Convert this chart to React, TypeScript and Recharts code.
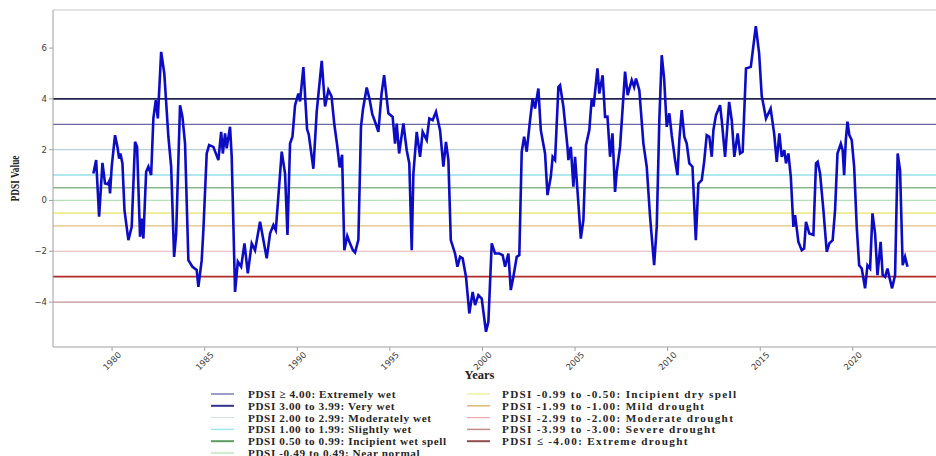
import { LineChart, Line, XAxis, YAxis, ReferenceLine, Legend } from 'recharts'

// monthly-ish PDSI readings (decimal year, value)
const years = [
  1978.99, 1979.14, 1979.3, 1979.48, 1979.62, 1979.77, 1979.84, 1979.89, 1979.98, 1980.16,
  1980.29, 1980.38, 1980.45, 1980.56, 1980.67, 1980.88, 1981.06, 1981.24, 1981.35, 1981.51,
  1981.6, 1981.69, 1981.84, 1981.96, 1982.11, 1982.23, 1982.36, 1982.47, 1982.65, 1982.82,
  1983.04, 1983.19, 1983.35, 1983.46, 1983.67, 1983.8, 1983.94, 1984.12, 1984.34, 1984.57,
  1984.66, 1984.84, 1984.93, 1985.11, 1985.24, 1985.47, 1985.74, 1985.89, 1985.98, 1986.1,
  1986.19, 1986.37, 1986.46, 1986.64, 1986.79, 1986.97, 1987.15, 1987.33, 1987.54, 1987.72,
  1987.99, 1988.17, 1988.35, 1988.53, 1988.71, 1988.84, 1988.95, 1989.16, 1989.34, 1989.47,
  1989.61, 1989.74, 1989.88, 1990.06, 1990.15, 1990.33, 1990.53, 1990.62, 1990.87, 1991.05,
  1991.32, 1991.5, 1991.68, 1991.85, 1992.0, 1992.15, 1992.29, 1992.42, 1992.54, 1992.7,
  1992.85, 1993.0, 1993.12, 1993.3, 1993.44, 1993.55, 1993.75, 1993.9, 1994.05, 1994.2,
  1994.38, 1994.55, 1994.69, 1994.92, 1995.15, 1995.28, 1995.37, 1995.5, 1995.73, 1995.91,
  1996.05, 1996.18, 1996.27, 1996.45, 1996.63, 1996.77, 1996.99, 1997.13, 1997.31, 1997.49,
  1997.71, 1997.89, 1998.03, 1998.16, 1998.29, 1998.52, 1998.65, 1998.79, 1998.93, 1999.11,
  1999.29, 1999.47, 1999.6, 1999.78, 1999.96, 2000.19, 2000.32, 2000.5, 2000.68, 2000.91,
  2001.09, 2001.22, 2001.4, 2001.53, 2001.67, 2001.85, 2001.99, 2002.12, 2002.25, 2002.39,
  2002.57, 2002.71, 2002.84, 2003.02, 2003.15, 2003.38, 2003.51, 2003.69, 2003.79, 2003.92,
  2004.1, 2004.19, 2004.37, 2004.59, 2004.64, 2004.77, 2004.91, 2005.0, 2005.18, 2005.31,
  2005.45, 2005.59, 2005.77, 2005.9, 2006.0, 2006.21, 2006.31, 2006.49, 2006.62, 2006.75,
  2006.89, 2007.02, 2007.16, 2007.25, 2007.43, 2007.7, 2007.84, 2008.06, 2008.19, 2008.29,
  2008.47, 2008.69, 2008.87, 2009.05, 2009.27, 2009.41, 2009.55, 2009.68, 2009.81, 2009.95,
  2010.09, 2010.22, 2010.4, 2010.53, 2010.63, 2010.76, 2010.9, 2011.03, 2011.17, 2011.34,
  2011.52, 2011.66, 2011.84, 2011.97, 2012.11, 2012.25, 2012.38, 2012.47, 2012.61, 2012.83,
  2012.92, 2013.1, 2013.32, 2013.46, 2013.6, 2013.78, 2013.91, 2014.05, 2014.23, 2014.49,
  2014.76, 2014.94, 2015.08, 2015.17, 2015.31, 2015.56, 2015.75, 2015.89, 2016.03, 2016.16,
  2016.3, 2016.39, 2016.52, 2016.65, 2016.79, 2016.88, 2017.06, 2017.24, 2017.37, 2017.47,
  2017.65, 2017.87, 2018.01, 2018.1, 2018.23, 2018.41, 2018.59, 2018.73, 2018.91, 2019.04,
  2019.17, 2019.35, 2019.45, 2019.53, 2019.62, 2019.71, 2019.81, 2019.94, 2020.07, 2020.21,
  2020.34, 2020.48, 2020.66, 2020.79, 2020.93, 2021.06, 2021.2, 2021.33, 2021.5, 2021.61,
  2021.74, 2021.87, 2021.97, 2022.12, 2022.28, 2022.42, 2022.55, 2022.69, 2022.82, 2022.95,
]

const pdsi = [
  1.06, 1.59, -0.64, 1.48, 0.67, 0.64, 0.75, 0.28, 1.33, 2.57,
  2.11, 1.65, 1.85, 1.46, -0.38, -1.56, -1.04, 2.31, 2.11, -1.43,
  -0.71, -1.5, 1.13, 1.33, 1.0, 3.23, 3.95, 3.23, 5.85, 5.0,
  2.51, 1.33, -2.22, -1.3, 3.75, 3.29, 2.24, -2.35, -2.61, -2.74,
  -3.4, -2.35, -1.17, 1.85, 2.18, 2.11, 1.59, 2.7, 1.85, 2.64,
  2.05, 2.9, 1.72, -3.6, -2.41, -2.61, -1.69, -2.87, -1.69, -1.96,
  -0.84, -1.56, -2.28, -1.3, -0.97, -1.17, -0.12, 1.92, 1.06, -1.36,
  2.24, 2.51, 3.75, 4.21, 3.9, 5.25, 2.8, 2.6, 1.25, 3.5,
  5.5, 3.7, 4.35, 4.1, 3.0, 2.2, 1.3, 1.8, -1.96, -1.4,
  -1.7, -1.95, -2.05, -1.55, 2.9, 3.6, 4.45, 4.0, 3.4, 3.1,
  2.7, 4.2, 4.93, 3.43, 3.29, 2.24, 3.03, 1.85, 3.03, 1.98,
  1.46, -1.96, 1.06, 2.7, 1.72, 2.7, 2.38, 3.23, 3.16, 3.49,
  2.77, 1.33, 2.31, 1.59, -1.56, -2.09, -2.61, -2.22, -2.28, -3.0,
  -4.45, -3.6, -4.12, -3.73, -3.86, -5.17, -4.78, -1.69, -2.09, -2.09,
  -2.15, -2.61, -2.09, -3.53, -3.0, -2.22, -2.15, 1.92, 2.51, 1.92,
  3.16, 4.02, 3.62, 4.41, 2.77, 1.85, 0.21, 0.93, 1.72, 1.59,
  4.47, 4.54, 3.69, 2.11, 1.59, 2.11, 0.54, 1.72, -0.12, -1.5,
  -0.77, 2.18, 2.77, 4.02, 3.7, 5.2, 4.21, 4.93, 3.29, 3.3,
  1.72, 2.64, 0.34, 1.13, 2.11, 5.07, 4.15, 4.74, 4.47, 4.8,
  4.34, 2.24, 1.33, -0.64, -2.55, -1.04, 3.16, 5.72, 4.8, 2.9,
  3.43, 2.57, 1.59, 1.0, 2.38, 3.56, 2.51, 2.24, 1.46, 1.33,
  -1.56, 0.67, 0.8, 1.52, 2.57, 2.51, 1.72, 2.77, 3.36, 3.75,
  3.16, 1.72, 3.88, 3.16, 1.72, 2.64, 1.85, 1.92, 5.2, 5.26,
  6.86, 5.79, 4.11, 3.78, 3.23, 3.62, 2.64, 1.52, 2.64, 1.72,
  1.98, 1.46, 1.85, 0.93, -1.04, -0.58, -1.63, -1.96, -1.89, -0.84,
  -1.3, -1.36, 1.46, 1.52, 1.06, -0.38, -2.02, -1.69, -1.56, -0.38,
  1.85, 2.24, 1.98, 1.0, 2.38, 3.1, 2.57, 2.38, 1.33, -1.04,
  -2.55, -2.68, -3.46, -2.55, -2.68, -0.51, -1.3, -2.94, -1.63, -2.94,
  -3.01, -2.68, -3.01, -3.46, -2.94, 1.85, 1.19, -2.55, -2.22, -2.61,
]

const yearTicks = [1980, 1985, 1990, 1995, 2000, 2005, 2010, 2015, 2020]
const valueTicks = [-4, -2, 0, 2, 4, 6]

// class boundaries drawn across the plot
const thresholds = [4, 3, 2, 1, 0.5, 0, -0.5, -1, -2, -3, -4]

const legendLabels = [
  'PDSI \u2265 4.00: Extremely wet',
  'PDSI 3.00 to 3.99: Very wet',
  'PDSI 2.00 to 2.99: Moderately wet',
  'PDSI 1.00 to 1.99: Slightly wet',
  'PDSI 0.50 to 0.99: Incipient wet spell',
  'PDSI -0.49 to 0.49: Near normal',
  'PDSI -0.99 to -0.50: Incipient dry spell',
  'PDSI -1.99 to -1.00: Mild drought',
  'PDSI -2.99 to -2.00: Moderate drought',
  'PDSI -3.99 to -3.00: Severe drought',
  'PDSI \u2264 -4.00: Extreme drought',
]

const data = years.map((t, i) => ({ t, v: pdsi[i] }))

const lineStyles = [
  { stroke: '#22224f', width: 1.6 },
  { stroke: '#6a6aa2', width: 1.2 },
  { stroke: '#b9cfdb', width: 1.2 },
  { stroke: '#95e0ea', width: 1.5 },
  { stroke: '#88b888', width: 1.3 },
  { stroke: '#b4e2b4', width: 1.3 },
  { stroke: '#f2ea8e', width: 1.6 },
  { stroke: '#e2c27e', width: 1.3 },
  { stroke: '#e8b2b2', width: 1.2 },
  { stroke: '#b02a2a', width: 1.7 },
  { stroke: '#c49393', width: 1.3 },
]

const legendStyles = [
  { stroke: '#7c7cb4', width: 1.5 },
  { stroke: '#33338a', width: 2 },
  { stroke: '#d0dce4', width: 1 },
  { stroke: '#a4e6ee', width: 1.5 },
  { stroke: '#5e9c5e', width: 2 },
  { stroke: '#bce8bc', width: 1.5 },
  { stroke: '#f5f0a0', width: 1.5 },
  { stroke: '#d9b872', width: 1.5 },
  { stroke: '#eaaaaa', width: 1.2 },
  { stroke: '#c28a8a', width: 1.5 },
  { stroke: '#8f4e4e', width: 2 },
]

const serif = '"Liberation Serif", "Times New Roman", serif'
const sans = '"DejaVu Sans", sans-serif'

const minus = (v: number) => (v < 0 ? `\u2212${-v}` : `${v}`)

const YearTick = ({ x, y, payload }: any) => {
  const cy = y + 8
  return (
    <text
      x={x}
      y={cy}
      transform={`rotate(-45 ${x} ${cy})`}
      textAnchor="middle"
      dominantBaseline="central"
      fontFamily={sans}
      fontSize={8.5}
      fill="#3a3a3a"
    >
      {payload.value}
    </text>
  )
}

const ThresholdLegend = () => (
  <svg width={936} height={70} style={{ display: 'block' }}>
    {legendLabels.map((label, i) => {
      const col = i < 6 ? 0 : 1
      const row = col === 0 ? i : i - 6
      const y = 6 + row * 11.8
      const x0 = col === 0 ? 211 : 467
      return (
        <g key={label}>
          <line x1={x0} x2={x0 + 23} y1={y} y2={y} stroke={legendStyles[i].stroke} strokeWidth={legendStyles[i].width} />
          <text
            x={col === 0 ? 248 : 502}
            y={y}
            dominantBaseline="central"
            fontFamily={serif}
            fontWeight="bold"
            fontSize={11.2}
            letterSpacing={col === 0 ? 0.6 : 1.3}
            fill="#262626"
          >
            {label}
          </text>
        </g>
      )
    })}
  </svg>
)

export default function App() {
  return (
    <div style={{ position: 'absolute', left: 0, top: 0, background: '#fff' }}>
      <LineChart width={936} height={456} data={data} margin={{ top: 10, right: 0, left: 0, bottom: 0 }}>
        <XAxis
          dataKey="t"
          type="number"
          domain={[1976.81, 2024.49]}
          ticks={yearTicks}
          allowDataOverflow
          height={109}
          stroke="#a0a0a0"
          tickSize={4}
          tick={<YearTick />}
          label={{
            content: ({ viewBox }: any) => (
              <text
                x={viewBox.x + viewBox.width / 2 - 15}
                y={viewBox.y + 32}
                textAnchor="middle"
                fontFamily={serif}
                fontWeight="bold"
                fontSize={12.5}
                fill="#222"
              >
                Years
              </text>
            ),
          }}
        />
        <YAxis
          type="number"
          domain={[-5.77, 7.5]}
          ticks={valueTicks}
          allowDataOverflow
          width={53}
          stroke="#a0a0a0"
          tickSize={4}
          tickFormatter={minus}
          tick={{ fontFamily: sans, fontSize: 8.5, fill: '#3a3a3a' }}
          label={{
            content: ({ viewBox }: any) => {
              const cy = viewBox.y + viewBox.height / 2
              return (
                <text
                  x={15}
                  y={cy}
                  transform={`rotate(-90 15 ${cy})`}
                  textAnchor="middle"
                  dominantBaseline="central"
                  fontFamily={serif}
                  fontWeight="bold"
                  fontSize={11.5}
                  textLength={46}
                  lengthAdjust="spacingAndGlyphs"
                  fill="#222"
                >
                  PDSI Value
                </text>
              )
            },
          }}
        />
        <ReferenceLine y={7.5} stroke="#dcdcdc" strokeWidth={1.5} />
        {thresholds.map((t, i) => (
          <ReferenceLine key={t} y={t} stroke={lineStyles[i].stroke} strokeWidth={lineStyles[i].width} />
        ))}
        <Line
          type="linear"
          dataKey="v"
          stroke="#0c0cc4"
          strokeWidth={2.6}
          dot={false}
          isAnimationActive={false}
        />
        <Legend
          layout="horizontal"
          verticalAlign="middle"
          align="center"
          wrapperStyle={{ top: 388, left: 0, width: 936 }}
          content={<ThresholdLegend />}
        />
      </LineChart>
    </div>
  )
}
